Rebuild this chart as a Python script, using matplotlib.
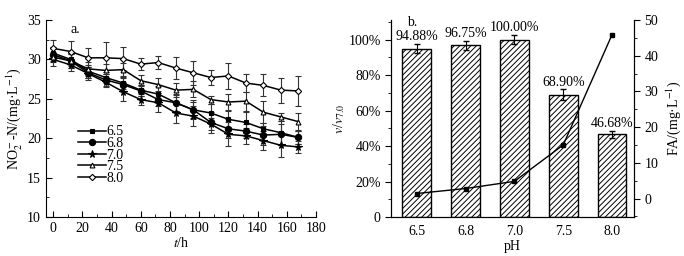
import numpy as np
import matplotlib.pyplot as plt
from matplotlib.lines import Line2D
from matplotlib.ticker import MultipleLocator, FuncFormatter

plt.rcParams['font.family'] = ['Liberation Serif', 'DejaVu Serif']
plt.rcParams['mathtext.fontset'] = 'stix'
plt.rcParams['font.size'] = 10
plt.rcParams['hatch.linewidth'] = 0.7

# panel a: nitrite vs time
t = [0, 12, 24, 36, 48, 60, 72, 84, 96, 108, 120, 132, 144, 156, 168]
ph_labels = ['6.5', '6.8', '7.0', '7.5', '8.0']
no2 = {
    '6.5': [30.8, 30.0, 28.5, 27.7, 27.0, 26.1, 25.6, 24.5, 23.6, 23.2, 22.4, 22.0, 21.2, 20.7, 20.1],
    '6.8': [30.6, 29.8, 28.3, 27.4, 26.8, 26.0, 24.9, 24.5, 23.6, 22.0, 21.2, 20.9, 20.4, 20.5, 20.1],
    '7.0': [30.0, 29.3, 28.2, 27.1, 25.9, 24.9, 24.5, 23.2, 22.8, 21.8, 20.5, 20.3, 19.7, 19.1, 18.9],
    '7.5': [30.3, 29.8, 28.8, 28.6, 28.7, 27.3, 26.8, 26.1, 26.2, 24.9, 24.6, 24.7, 23.3, 22.7, 22.1],
    '8.0': [31.4, 31.0, 30.2, 30.2, 30.1, 29.4, 29.6, 28.9, 28.3, 27.7, 27.9, 27.0, 26.7, 26.1, 26.0],
}
no2_err = {
    '6.5': [0.8, 0.8, 0.8, 0.7, 0.8, 0.7, 1.0, 1.1, 1.0, 1.2, 1.0, 1.3, 0.7, 1.5, 0.8],
    '6.8': [0.8, 0.9, 0.7, 0.8, 0.8, 0.7, 0.8, 1.0, 1.2, 1.3, 1.2, 0.9, 1.2, 1.3, 0.8],
    '7.0': [0.8, 0.8, 0.8, 0.6, 1.2, 0.7, 1.2, 1.3, 1.3, 0.8, 1.5, 1.0, 1.2, 1.5, 0.8],
    '7.5': [0.6, 0.9, 0.9, 0.8, 0.8, 0.7, 0.8, 0.9, 1.0, 0.5, 1.0, 1.2, 1.4, 0.5, 1.1],
    '8.0': [1.0, 1.3, 1.2, 2.0, 1.5, 0.8, 0.8, 1.4, 1.5, 0.9, 1.7, 1.1, 1.4, 1.6, 1.9],
}
markers = {'6.5': ('s', 'black', 3.5), '6.8': ('o', 'black', 4.5), '7.0': ('*', 'black', 5.5),
           '7.5': ('^', 'white', 3.5), '8.0': ('D', 'white', 3.2)}

# panel b: relative rate and free ammonia
ph_cat = ['6.5', '6.8', '7.0', '7.5', '8.0']
rel_rate = [94.88, 96.75, 100.00, 68.90, 46.68]
rel_err = [2.6, 2.6, 2.5, 3.0, 2.0]
fa = [1.4, 2.8, 4.8, 15.0, 45.9]

fig = plt.figure(figsize=(6.84, 2.56), dpi=100)

ax1 = fig.add_axes([0.067, 0.152, 0.395, 0.770])
handles = []
for p in ph_labels:
    m, fc, ms = markers[p]
    ax1.errorbar(t, no2[p], yerr=no2_err[p], color='black', lw=1.1, marker=m, ms=ms,
                 mfc=fc, mec='black', mew=0.8, ecolor='#333333', elinewidth=0.8, capsize=2)
    handles.append(Line2D([], [], color='black', lw=1.1, marker=m, ms=ms, mfc=fc,
                          mec='black', mew=0.8, label=p))
ax1.set_xlim(-5, 180)
ax1.set_ylim(10, 35)
ax1.xaxis.set_major_locator(MultipleLocator(20))
ax1.xaxis.set_minor_locator(MultipleLocator(10))
ax1.yaxis.set_major_locator(MultipleLocator(5))
ax1.yaxis.set_minor_locator(MultipleLocator(2.5))
ax1.tick_params(which='both', direction='in')
ax1.tick_params(which='major', length=4)
ax1.tick_params(which='minor', length=2.5)
ax1.spines['top'].set_visible(False)
ax1.spines['right'].set_visible(False)
ax1.set_xlabel('$t$/h', labelpad=1)
ax1.set_ylabel('NO$_2^-$-N/(mg·L$^{-1}$)', labelpad=2)
ax1.text(0.09, 0.985, 'a.', transform=ax1.transAxes, va='top')
ax1.legend(handles=handles, loc='lower left', bbox_to_anchor=(0.1, 0.135), frameon=False,
           handlelength=2.0, handletextpad=0.0, labelspacing=-0.1, borderaxespad=0)

ax2 = fig.add_axes([0.572, 0.152, 0.355, 0.770])
x = np.arange(len(ph_cat))
ax2.bar(x, rel_rate, width=0.59, color='white', edgecolor='black', hatch='//////', lw=1.0,
        yerr=rel_err, error_kw=dict(ecolor='black', elinewidth=0.8, capsize=2))
for xi, v, e in zip(x, rel_rate, rel_err):
    ax2.text(xi, v + e + 0.5, '%.2f%%' % v, ha='center', va='bottom')
ax2.set_xlim(-0.52, 4.45)
ax2.set_ylim(0, 111)
ax2.set_xticks(x)
ax2.set_xticklabels(ph_cat)
ax2.tick_params(axis='x', length=0, pad=6)
ax2.yaxis.set_major_locator(MultipleLocator(20))
ax2.yaxis.set_minor_locator(MultipleLocator(10))
ax2.yaxis.set_major_formatter(FuncFormatter(lambda v, pos: '0' if v == 0 else '%d%%' % v))
ax2.tick_params(axis='y', which='major', length=4)
ax2.tick_params(axis='y', which='minor', length=2.5)
ax2.spines['top'].set_visible(False)
ax2.set_xlabel('pH', labelpad=1)
ax2.set_ylabel('$v$/$v_{7.0}$', labelpad=1)
ax2.text(0.065, 1.02, 'b.', transform=ax2.transAxes, va='top')

ax3 = ax2.twinx()
ax3.plot(x, fa, color='black', marker='s', ms=3.5, lw=1.0)
ax3.set_ylim(-5.2, 50)
ax3.yaxis.set_major_locator(MultipleLocator(10))
ax3.yaxis.set_minor_locator(MultipleLocator(5))
ax3.tick_params(which='major', length=4)
ax3.tick_params(which='minor', length=2.5)
ax3.spines['top'].set_visible(False)
ax3.set_ylabel('FA/(mg·L$^{-1}$)', labelpad=4)

fig.savefig('out.png', dpi=100)
